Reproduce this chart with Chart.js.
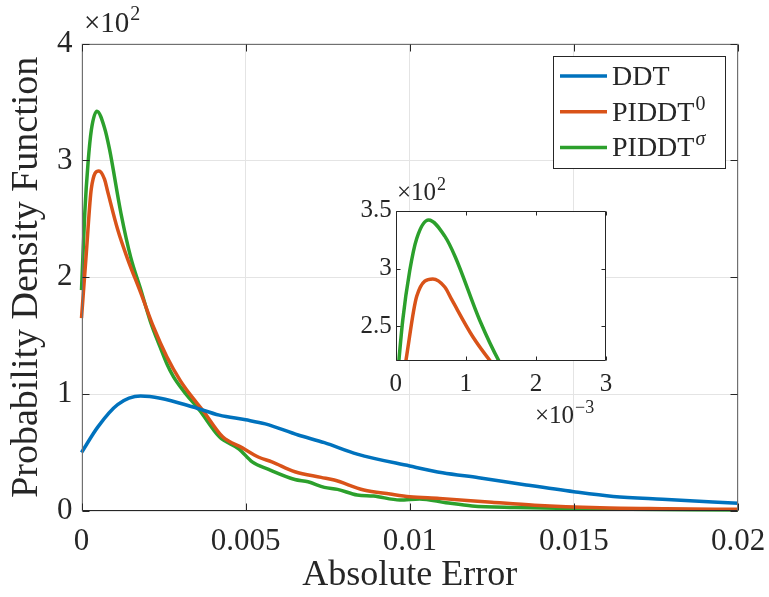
<!DOCTYPE html>
<html>
<head>
<meta charset="utf-8">
<script src="https://cdn.jsdelivr.net/npm/chart.js@4"></script>
<style>
  html, body { margin: 0; padding: 0; background: #fff; }
  #wrap { position: relative; width: 769px; height: 597px; }
  #wrap canvas { position: absolute; left: 0; top: 0; }
</style>
</head>
<body>
<div id="wrap">
  <canvas id="main" width="769" height="597"></canvas>
  <canvas id="inset" width="769" height="597"></canvas>
</div>
<script>
const seriesNames = ['DDT', 'PIDDT', 'PIDDT'];
const seriesSups = ['', '0', 'σ'];
const seriesColors = ['#0072bd', '#d95319', '#2ca02c'];

// values (y in plain units, axis shows x10^2)
const ddtX = [0, 0.0005, 0.0011, 0.0018, 0.0024, 0.0034, 0.0042, 0.005, 0.0056, 0.0066, 0.0074, 0.0084, 0.01, 0.011, 0.0121, 0.0135, 0.015, 0.0162, 0.0177, 0.02];
const ddtY = [50, 72, 91, 98.3, 96.5, 89, 82, 78, 74.5, 65, 58.5, 48.7, 38.5, 32.7, 28.5, 22.5, 16.5, 12.5, 10, 6.6];

const piddt0X = [0, 0.00015, 0.0003, 0.00053, 0.0007, 0.0008, 0.0011, 0.0014, 0.0018, 0.0022, 0.0026, 0.003, 0.0033, 0.0037, 0.0043, 0.0049, 0.0054, 0.0058, 0.0065, 0.0073, 0.0077, 0.0086, 0.0094, 0.01, 0.0109, 0.0125, 0.0138, 0.0158, 0.0178, 0.02];
const piddt0Y = [165, 222, 276, 291, 284, 273, 241, 216, 187, 157, 132, 112, 100, 86, 63.5, 54, 46, 42, 33.6, 28.8, 26.5, 18, 14.5, 12.2, 10.8, 7.5, 5, 2.8, 2, 1.4];

const piddtSX = [0, 0.0001, 0.0002, 0.0003, 0.00047, 0.0007, 0.00085, 0.0012, 0.0015, 0.0018, 0.0021, 0.0024, 0.0026, 0.0028, 0.0031, 0.0036, 0.0042, 0.0048, 0.0052, 0.0057, 0.0065, 0.0069, 0.0074, 0.0078, 0.0084, 0.0089, 0.0097, 0.0103, 0.0111, 0.0119, 0.0132, 0.0158, 0.02];
const piddtSY = [189, 255, 298, 326, 342, 328, 310, 255, 217, 190, 162, 140, 126, 115, 103, 86, 63.5, 53, 42, 35.6, 27, 25, 20.2, 18.5, 13.7, 12.8, 9.4, 10.3, 7.1, 4.3, 3, 1.7, 0.8];

const xTicks = [0, 0.005, 0.01, 0.015, 0.02];
const xTickLabels = ['0', '0.005', '0.01', '0.015', '0.02'];
const yTicks = [0, 100, 200, 300, 400];
const yTickLabels = ['0', '1', '2', '3', '4'];

const insetXTicks = [0, 0.001, 0.002, 0.003];
const insetXTickLabels = ['0', '1', '2', '3'];
const insetYTicks = [250, 300, 350];
const insetYTickLabels = ['2.5', '3', '3.5'];

const FONT = '"Liberation Serif", "DejaVu Serif", serif';
const TXT = '#262626';

const toPoints = (xs, ys) => xs.map((x, i) => ({ x: x, y: ys[i] }));

const makeDatasets = clip => [
  toPoints(ddtX, ddtY), toPoints(piddt0X, piddt0Y), toPoints(piddtSX, piddtSY)
].map((pts, i) => ({
  label: seriesNames[i] + seriesSups[i],
  data: pts,
  borderColor: seriesColors[i],
  backgroundColor: seriesColors[i],
  borderWidth: 3.5,
  pointRadius: 0,
  fill: false,
  cubicInterpolationMode: 'monotone',
  clip: clip
}));

function drawSupText(ctx, x, y, base, sup, size) {
  ctx.textAlign = 'left';
  ctx.textBaseline = 'alphabetic';
  ctx.font = size + 'px ' + FONT;
  ctx.fillText(base, x, y);
  if (!sup) return;
  const w = ctx.measureText(base).width;
  const italic = /^[0-9\u2212-]+$/.test(sup) ? '' : 'italic ';
  ctx.font = italic + Math.round(size * 0.7) + 'px ' + FONT;
  ctx.fillText(sup, x + w + 1, y - size * 0.4);
}

// MATLAB-like box with inward ticks, exponent labels and legend
const boxAxes = {
  id: 'boxAxes',
  beforeDraw(chart, args, opts) {
    if (!opts.fill) return;
    const a = chart.chartArea;
    chart.ctx.save();
    chart.ctx.fillStyle = '#fff';
    chart.ctx.fillRect(a.left, a.top, a.right - a.left, a.bottom - a.top);
    chart.ctx.restore();
  },
  afterDatasetsDraw(chart, args, opts) {
    const { ctx, chartArea: a, scales } = chart;
    const L = Math.round(a.left) + 0.5, R = Math.round(a.right) - 0.5;
    const T = Math.round(a.top) + 0.5, B = Math.round(a.bottom) - 0.5;
    ctx.save();
    ctx.lineWidth = 1;
    ctx.strokeStyle = opts.sideColor;
    ctx.beginPath();
    ctx.moveTo(L, B); ctx.lineTo(L, T); ctx.lineTo(R, T); ctx.lineTo(R, B);
    ctx.stroke();
    ctx.strokeStyle = opts.color;
    ctx.beginPath();
    ctx.moveTo(L, B); ctx.lineTo(R, B);
    scales.x.ticks.forEach(t => {
      const px = Math.round(scales.x.getPixelForValue(t.value)) + 0.5;
      ctx.moveTo(px, B); ctx.lineTo(px, B - opts.len);
      ctx.moveTo(px, T); ctx.lineTo(px, T + opts.len);
    });
    scales.y.ticks.forEach(t => {
      const py = Math.round(scales.y.getPixelForValue(t.value)) + 0.5;
      ctx.moveTo(L, py); ctx.lineTo(L + opts.len, py);
      ctx.moveTo(R, py); ctx.lineTo(R - opts.len, py);
    });
    ctx.stroke();
    ctx.restore();
  },
  afterDraw(chart, args, opts) {
    const ctx = chart.ctx;
    ctx.save();
    ctx.fillStyle = TXT;
    (opts.exps || []).forEach(e => drawSupText(ctx, e.x, e.y, e.base, e.sup, e.size));
    const lg = opts.legend;
    if (lg) {
      ctx.fillStyle = '#fff';
      ctx.fillRect(lg.x, lg.y, lg.w, lg.h);
      ctx.strokeStyle = TXT;
      ctx.lineWidth = 1;
      ctx.strokeRect(lg.x + 0.5, lg.y + 0.5, lg.w, lg.h);
      chart.data.datasets.forEach((ds, i) => {
        const cy = lg.y + lg.first + i * lg.step;
        ctx.strokeStyle = ds.borderColor;
        ctx.lineWidth = 3.5;
        ctx.beginPath();
        ctx.moveTo(lg.x + 7, cy); ctx.lineTo(lg.x + 54, cy);
        ctx.stroke();
        ctx.fillStyle = TXT;
        drawSupText(ctx, lg.x + 59, cy + 9, seriesNames[i], seriesSups[i], lg.size);
      });
    }
    ctx.restore();
  }
};

const setTicks = list => scale => { scale.ticks = list.map(v => ({ value: v })); };
// fixed axis sizes, no extra room for overhanging labels
const fitX = h => s => { s.height = h; s.paddingLeft = 0; s.paddingRight = 0; };
const fitY = w => s => { s.width = w; s.paddingTop = 0; s.paddingBottom = 0; };

new Chart(document.getElementById('main'), {
  type: 'line',
  data: { datasets: makeDatasets(false) },
  options: {
    responsive: false,
    animation: false,
    events: [],
    layout: { padding: { top: 43.5, right: 31, left: 0, bottom: 0 } },
    plugins: {
      legend: { display: false },
      tooltip: { enabled: false },
      boxAxes: {
        color: '#262626', sideColor: '#707070', len: 7,
        exps: [{ x: 84, y: 32, base: '×10', sup: '2', size: 29 }],
        legend: { x: 553, y: 56, w: 172, h: 112, first: 20, step: 35.7, size: 28 }
      }
    },
    scales: {
      x: {
        type: 'linear', min: 0, max: 0.02,
        afterBuildTicks: setTicks(xTicks),
        afterFit: fitX(86),
        ticks: { callback: (v, i) => xTickLabels[i], font: { family: FONT, size: 31 }, color: TXT, padding: 12, maxRotation: 0, autoSkip: false },
        grid: { color: '#e4e4e4', drawTicks: false },
        border: { display: false },
        title: { display: true, text: 'Absolute Error', font: { family: FONT, size: 36 }, color: TXT, padding: { top: 0, bottom: 0 } }
      },
      y: {
        type: 'linear', min: 0, max: 400,
        afterBuildTicks: setTicks(yTicks),
        afterFit: fitY(81.5),
        ticks: { callback: (v, i) => yTickLabels[i], font: { family: FONT, size: 31 }, color: TXT, padding: 9, autoSkip: false },
        grid: { color: '#e4e4e4', drawTicks: false },
        border: { display: false },
        title: { display: true, text: 'Probability Density Function', font: { family: FONT, size: 38 }, color: TXT, padding: { top: 4, bottom: 0 } }
      }
    }
  },
  plugins: [boxAxes]
});

new Chart(document.getElementById('inset'), {
  type: 'line',
  data: { datasets: makeDatasets(0) },
  options: {
    responsive: false,
    animation: false,
    events: [],
    layout: { padding: { top: 210.7, right: 163, left: 0, bottom: 0 } },
    plugins: {
      legend: { display: false },
      tooltip: { enabled: false },
      boxAxes: {
        fill: true, color: '#262626', sideColor: '#262626', len: 4,
        exps: [
          { x: 397, y: 200, base: '×10', sup: '2', size: 25 },
          { x: 535, y: 423, base: '×10', sup: '\u22123', size: 25 }
        ]
      }
    },
    scales: {
      x: {
        type: 'linear', min: 0, max: 0.003,
        afterBuildTicks: setTicks(insetXTicks),
        afterFit: fitX(236),
        ticks: { callback: (v, i) => insetXTickLabels[i], font: { family: FONT, size: 25 }, color: TXT, padding: 8, maxRotation: 0, autoSkip: false },
        grid: { display: false, drawTicks: false },
        border: { display: false }
      },
      y: {
        type: 'linear', min: 220, max: 350,
        afterBuildTicks: setTicks(insetYTicks),
        afterFit: fitY(395.7),
        ticks: { callback: (v, i) => insetYTickLabels[i], font: { family: FONT, size: 25 }, color: TXT, padding: 4, autoSkip: false },
        grid: { display: false, drawTicks: false },
        border: { display: false }
      }
    }
  },
  plugins: [boxAxes]
});
</script>
</body>
</html>
